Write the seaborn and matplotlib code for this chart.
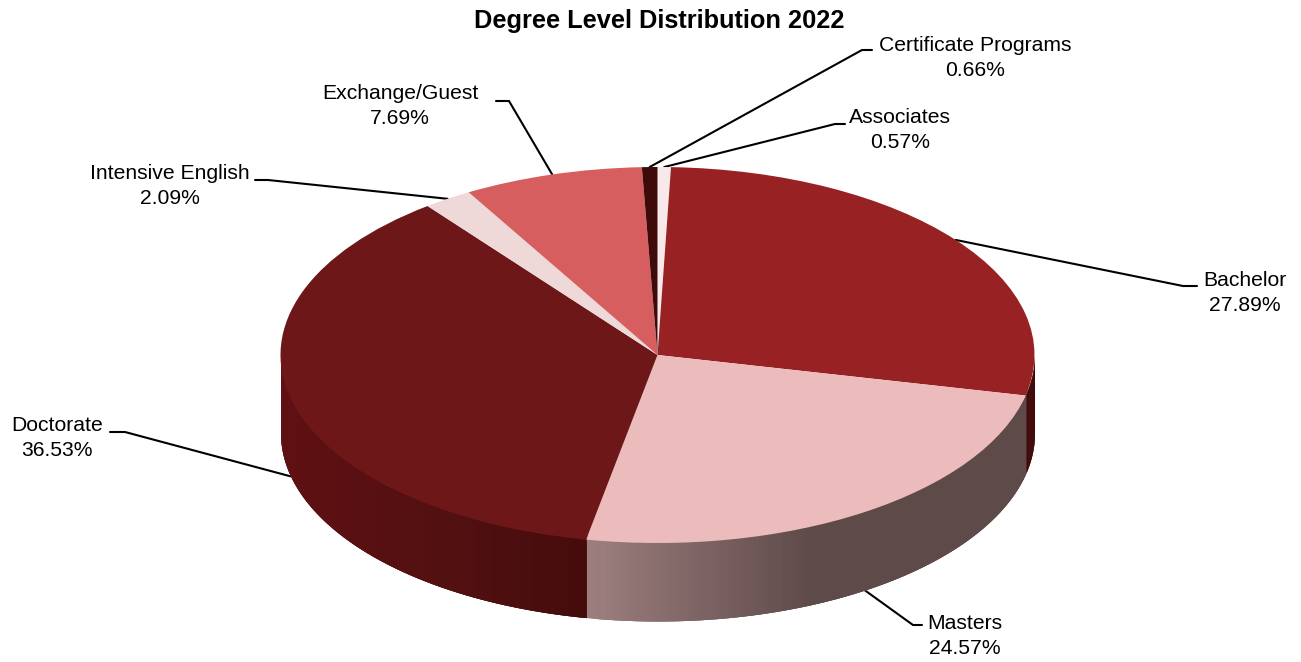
import numpy as np
import seaborn as sns
import matplotlib
matplotlib.use('Agg')
import matplotlib.pyplot as plt

# data, clockwise from 12 o'clock
degrees = ['Associates', 'Bachelor', 'Masters', 'Doctorate',
           'Intensive English', 'Exchange/Guest', 'Certificate Programs']
shares = [0.57, 27.89, 24.57, 36.53, 2.09, 7.69, 0.66]
title = 'Degree Level Distribution 2022'

# styles
top_colors = ['#f7e9e9', '#972123', '#ecbcbc', '#6d1718', '#eed8d8', '#d65e5e', '#3f0a0a']
wall_ramps = {'Bachelor': ['#3f0808', '#3f0808'],
              'Masters': ['#9c7e7e', '#5f4a4a', '#5f4a4a'],
              'Doctorate': ['#5f1012', '#531011', '#450c0c']}

# layout in image pixels
W, H = 1301, 662
cx, cy, rx, ry, depth_px = 657.5, 355, 377, 188, 78
label_centers = {'Associates': (900, 130), 'Bachelor': (1245, 293), 'Masters': (965, 636),
                 'Doctorate': (57, 438), 'Intensive English': (170, 186),
                 'Exchange/Guest': (400, 106), 'Certificate Programs': (975, 58)}
elbows = {'Associates': [(835, 124), (845, 124)], 'Bachelor': [(1183, 286), (1197, 286)],
          'Masters': [(913, 625), (922, 625)], 'Doctorate': [(125, 432), (110, 432)],
          'Intensive English': [(268, 180), (255, 180)], 'Exchange/Guest': [(509, 101), (496, 101)],
          'Certificate Programs': [(862, 50), (872, 50)]}


def to_data(px, py):
    return (px - cx) / rx, (cy - py) / ry


sns.set_theme(style='white')
plt.rcParams['font.family'] = ['Liberation Sans', 'DejaVu Sans']

fig = plt.figure(figsize=(W / 100, H / 100), dpi=100)
ax = fig.add_axes([0, 0, 1, 1])
depth = depth_px / ry

wedges, _ = ax.pie(shares, colors=top_colors, startangle=90, counterclock=False,
                   radius=1, wedgeprops={'linewidth': 0})
ax.set_aspect('auto')
ax.set_xlim(to_data(0, 0)[0], to_data(W, 0)[0])
ax.set_ylim(to_data(0, H)[1], to_data(0, 0)[1])
ax.axis('off')

# side wall, only the part of each slice facing front (angles -180..0)
# strips overlap the next ones so no seams show between them
n = 120
for name, w in zip(degrees, wedges):
    if name not in wall_ramps:
        continue
    lo, hi = max(w.theta1, -180), min(w.theta2, 0)
    if lo >= hi:
        continue
    t = np.radians(np.linspace(lo, hi, n + 1))
    ramp = sns.blend_palette(wall_ramps[name], n)
    xs = np.cos(t)
    ys = np.sin(t)
    frac = (xs[:-1] - xs.min()) / max(xs.max() - xs.min(), 1e-6)
    for i in range(n):
        c = ramp[int(frac[i] * (n - 1))]
        sx = xs[i:i + 4]
        sy = ys[i:i + 4]
        ax.fill_between(sx, sy - depth, sy * 0.97, color=c, linewidth=0, zorder=0.5)

# leader lines and labels
for name, share, w in zip(degrees, shares, wedges):
    mid = np.radians((w.theta1 + w.theta2) / 2)
    ax_x, ax_y = np.cos(mid), np.sin(mid)
    if name in ('Masters', 'Doctorate'):
        ax_y -= depth
    (x1, y1), (x2, y2) = [to_data(*p) for p in elbows[name]]
    ax.plot([ax_x, x1, x2], [ax_y, y1, y2], color='black', lw=1.5, zorder=0.4,
            solid_joinstyle='round')
    lx, ly = to_data(*label_centers[name])
    ax.text(lx, ly, f'{name}\n{share:.2f}%', ha='center', va='center',
            fontsize=15.2, color='black', linespacing=1.35, zorder=3)

tx, ty = to_data(659.5, 21)
ax.text(tx, ty, title, ha='center', va='center', fontsize=18.3, fontweight='bold', color='black')

fig.savefig('out.png', dpi=100)
